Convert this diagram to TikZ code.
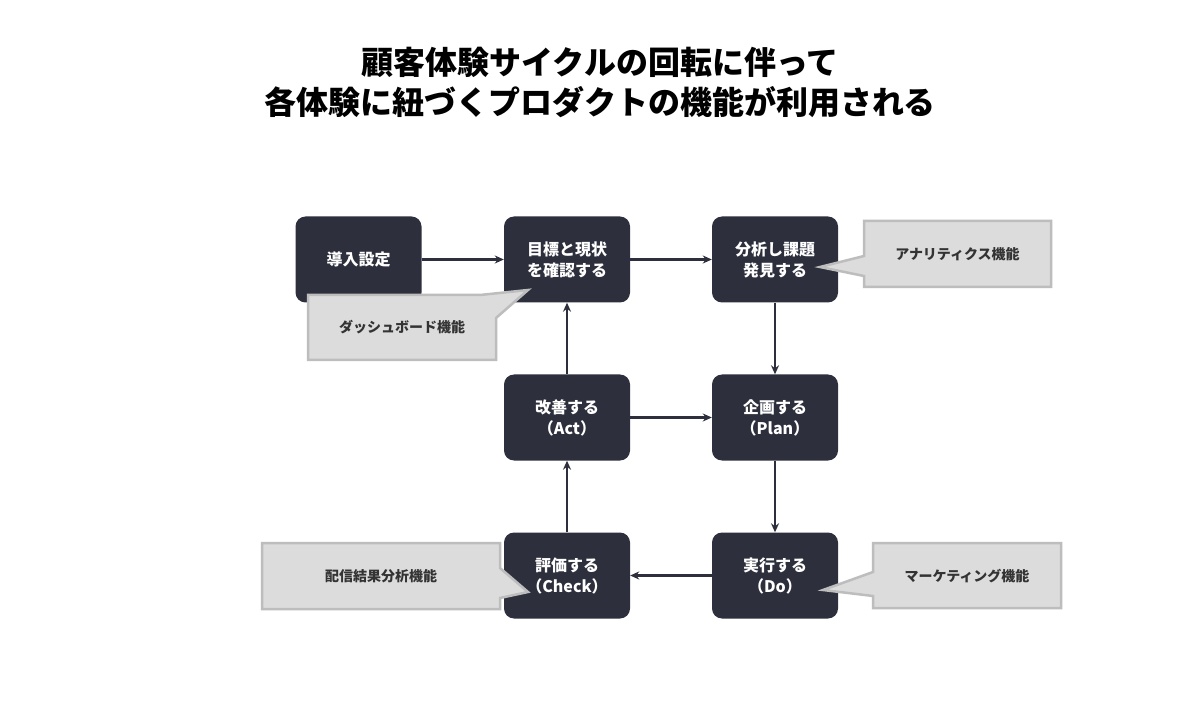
\documentclass[tikz,border=0pt]{standalone}
\usepackage{fontspec}
\setmainfont{Noto Sans CJK JP}
\usetikzlibrary{arrows.meta}
\definecolor{boxc}{HTML}{2D303C}
\definecolor{callf}{HTML}{DCDCDC}
\definecolor{calld}{HTML}{BDBDBD}
\definecolor{txtc}{HTML}{333333}
\begin{document}
\begin{tikzpicture}[x=1pt,y=-1pt,
 box/.style={draw=none,fill=boxc,rounded corners=10pt,minimum width=126pt,minimum height=86pt,text=white,font=\fontsize{16}{21}\selectfont\bfseries,align=center,inner sep=0pt},
 arr/.style={draw=boxc,line width=2.2pt,-{Stealth[length=9pt,width=8pt]}},
 call/.style={fill=callf,draw=calld,line width=2.5pt},
 ctext/.style={text=txtc,font=\fontsize{14}{18}\selectfont\bfseries}]
\useasboundingbox[fill=white] (0,0) rectangle (1200,711);
\node[font=\fontsize{32}{40}\selectfont\bfseries,align=center] (title) at (600,82) {顧客体験サイクルの回転に伴って\\各体験に紐づくプロダクトの機能が利用される};
\node[box] (a) at (358.5,259.5) {導入設定};
\node[box] (b) at (567,259.5) {目標と現状\\を確認する};
\node[box] (c) at (775,259.5) {分析し課題\\発見する};
\node[box] (d) at (567,417.5) {改善する\\（Act）};
\node[box] (e) at (775,417.5) {企画する\\（Plan）};
\node[box] (f) at (567,575.5) {評価する\\（Check）};
\node[box] (g) at (775,575.5) {実行する\\（Do）};
\draw[arr] (a) -- (b);
\draw[arr] (b) -- (c);
\draw[arr] (c) -- (e);
\draw[arr] (e) -- (g);
\draw[arr] (g) -- (f);
\draw[arr] (f) -- (d);
\draw[arr] (d) -- (b);
\draw[arr] (d) -- (e);
% callouts
\draw[call] (864,221) -- (1051,221) -- (1051,287) -- (864,287) -- (864,276) -- (820,267) -- (864,256) -- cycle;
\node[ctext] (t1) at (957.5,254) {アナリティクス機能};
\draw[call] (308,295) -- (480,295) -- (528,290) -- (496,318) -- (496,360) -- (308,360) -- cycle;
\node[ctext] (t2) at (402,327) {ダッシュボード機能};
\draw[call] (262,543) -- (500,543) -- (500,568) -- (528,592) -- (500,598) -- (500,609) -- (262,609) -- cycle;
\node[ctext] (t3) at (381,576) {配信結果分析機能};
\draw[call] (873,543) -- (1061,543) -- (1061,608) -- (873,608) -- (873,596) -- (823,590) -- (873,572) -- cycle;
\node[ctext] (t4) at (967,576) {マーケティング機能};
\end{tikzpicture}
\end{document}
